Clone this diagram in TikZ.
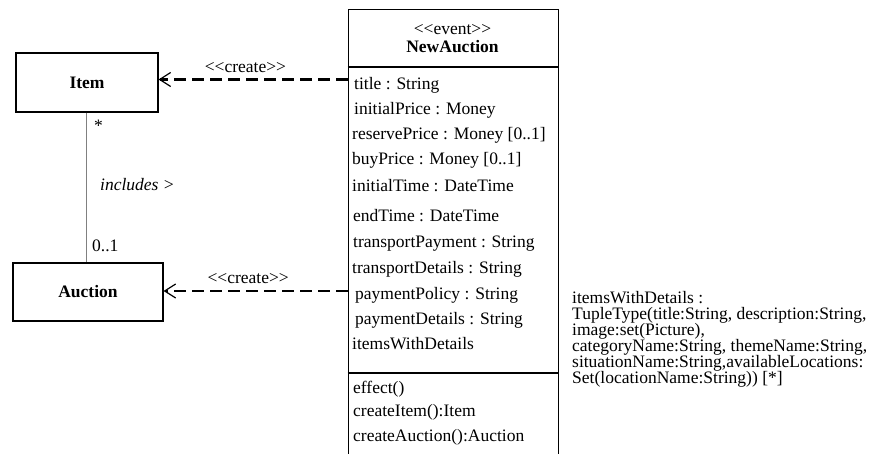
\documentclass[tikz,border=0pt]{standalone}
\usepackage{fontspec}
\setmainfont{Liberation Serif}
\usepackage{tikz}
\usetikzlibrary{positioning,arrows.meta}

\newcommand{\stereo}[1]{\textless\kern0pt\textless\kern0pt #1\kern0pt\textgreater\kern0pt\textgreater}

\begin{document}
\begin{tikzpicture}[x=1pt, y=-1pt, >={Straight Barb[length=11pt,width=14pt,line width=1.2pt]}, every node/.style={inner sep=0pt, font=\fontsize{17.5}{21}\selectfont}, box/.style={draw, line width=1.1pt, font=\fontsize{17.5}{21}\selectfont\bfseries}, create/.style={->, line width=2.7pt, dash pattern=on 12pt off 6pt}, assoc/.style={draw=gray, line width=1pt}, attr/.style={anchor=base west}]

\useasboundingbox (0,0) rectangle (876,454);
\clip (0,0) rectangle (876,454);

\node[box, minimum width=142pt, minimum height=59pt] (item) at (87,82.5) {Item};
\node[box, minimum width=150pt, minimum height=58pt] (auction) at (88,292) {Auction};
\node[draw, line width=1.1pt, minimum width=210pt, minimum height=470pt, anchor=north west] (newauction) at (347.5,9.3) {};

% class header and compartments
\node (stereo) at (452.5,30) {\stereo{event}};
\node[font=\fontsize{17.5}{21}\selectfont\bfseries] (name) [below=5pt of stereo] {NewAuction};
\draw[line width=1.1pt] (newauction.west |- 0,67) -- (newauction.east |- 0,67);
\draw[line width=1.1pt] (newauction.west |- 0,373) -- (newauction.east |- 0,373);

\node[attr] (a1) at (354,90) {title : String};
\node[attr] (a2) at (354,115) {initialPrice : Money};
\node[attr] (a3) at (352,140) {reservePrice : Money [0..1]};
\node[attr] (a4) at (352,165) {buyPrice : Money [0..1]};
\node[attr] (a5) at (352,192) {initialTime : DateTime};
\node[attr] (a6) at (353,222) {endTime : DateTime};
\node[attr] (a7) at (353,248) {transportPayment : String};
\node[attr] (a8) at (352,274) {transportDetails : String};
\node[attr] (a9) at (355,300) {paymentPolicy : String};
\node[attr] (a10) at (355,325) {paymentDetails : String};
\node[attr] (a11) at (352,350) {itemsWithDetails};

\node[attr] (o1) at (353,393) {effect()};
\node[attr] (o2) at (353,417) {createItem():Item};
\node[attr] (o3) at (353,441) {createAuction():Auction};

\node[anchor=north west, align=left, font=\fontsize{17.5}{16}\selectfont] (details) at (572,291) {itemsWithDetails :\\ TupleType(title:String, description:String,\\ image:set(Picture),\\ categoryName:String, themeName:String,\\ situationName:String,availableLocations:\\ Set(locationName:String)) [*]};

% dependencies
\draw[create] (newauction.west |- 0,79.5) -- ([yshift=3pt]item.east) node[pos=0.54, above=5pt] {\stereo{create}};
\draw[create] (newauction.west |- 0,291) -- (auction.east |- 0,291) node[pos=0.54, above=6pt] {\stereo{create}};

% association
\draw[assoc] (item.south -| 86,0) -- (auction.north -| 86,0);
\node[anchor=west] (many) at (94,126) {*};
\node[anchor=west, font=\fontsize{17.5}{21}\selectfont\itshape] (includes) at (100,185) {includes >};
\node[anchor=west] (opt) at (92,246) {0..1};
\end{tikzpicture}
\end{document}
